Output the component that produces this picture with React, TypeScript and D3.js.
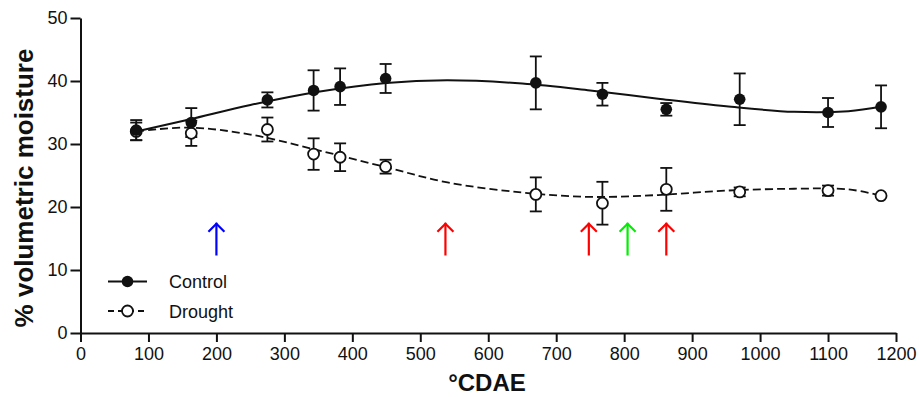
import { useEffect, useRef } from "react";
import * as d3 from "d3";

// sampling points (°CDAE)
const cdae = [82, 163, 275, 343, 382, 449, 670, 768, 862, 970, 1100, 1178];

// Control: mean and SE
const controlMean = [32.2, 33.4, 37.0, 38.5, 39.1, 40.4, 39.7, 37.9, 35.5, 37.1, 35.0, 35.9];
const controlErr = [1.6, 2.3, 1.2, 3.2, 2.9, 2.3, 4.2, 1.8, 1.0, 4.1, 2.3, 3.4];

// Drought: mean and SE
const droughtMean = [32.0, 31.7, 32.3, 28.4, 27.9, 26.4, 22.0, 20.6, 22.8, 22.4, 22.6, 21.8];
const droughtErr = [1.4, 2.0, 1.9, 2.5, 2.2, 1.1, 2.7, 3.4, 3.4, 0.7, 0.8, 0];

// fitted curves
const fitX = [82, 160, 250, 350, 450, 540, 650, 750, 850, 950, 1050, 1130, 1178];
const controlFit = [32.0, 33.9, 36.2, 38.3, 39.7, 40.1, 39.6, 38.5, 37.2, 36.0, 35.1, 35.2, 35.9];
const droughtFit = [32.0, 32.6, 31.5, 29.0, 26.3, 23.9, 22.3, 21.6, 21.9, 22.6, 22.9, 22.8, 21.8];

// event arrows
const arrowX = [200, 537, 748, 805, 862];
const arrowColor = ["#0000ff", "#ff0000", "#ff0000", "#00ee00", "#ff0000"];

const xTicks = d3.range(0, 1201, 100);
const yTicks = [0, 10, 20, 30, 40, 50];

const W = 919;
const H = 397;
const FONT = "Liberation Sans, Arial, sans-serif";
const INK = "#111";

export default function App() {
  const xAxisRef = useRef<SVGGElement>(null);
  const yAxisRef = useRef<SVGGElement>(null);

  const x = d3.scaleLinear().domain([0, 1200]).range([80.5, 896]);
  const y = d3.scaleLinear().domain([0, 50]).range([333, 18]);

  useEffect(() => {
    const styleAxis = (g: d3.Selection<SVGGElement, unknown, null, undefined>) => {
      g.attr("font-family", FONT).attr("font-size", 18);
      g.select(".domain").attr("stroke", INK).attr("stroke-width", 2);
      g.selectAll(".tick line").attr("stroke", INK).attr("stroke-width", 2);
      g.selectAll(".tick text").attr("fill", INK);
    };
    if (xAxisRef.current) {
      const g = d3.select(xAxisRef.current);
      g.selectAll("*").remove();
      g.call(d3.axisBottom(x).tickValues(xTicks).tickSize(9).tickSizeOuter(0).tickPadding(5).tickFormat(d3.format("d")));
      styleAxis(g);
    }
    if (yAxisRef.current) {
      const g = d3.select(yAxisRef.current);
      g.selectAll("*").remove();
      g.call(d3.axisLeft(y).tickValues(yTicks).tickSize(10).tickSizeOuter(0).tickPadding(3).tickFormat(d3.format("d")));
      styleAxis(g);
    }
  });

  const fitLine = d3
    .line<number>()
    .x((_, i) => x(fitX[i]))
    .y((d) => y(d))
    .curve(d3.curveCatmullRom.alpha(0.5));

  const controlPath = fitLine(controlFit) ?? "";
  const droughtPath = fitLine(droughtFit) ?? "";

  const capW = 6;

  const errorBars = (means: number[], errs: number[], key: string) =>
    cdae.map((c, i) =>
      errs[i] > 0 ? (
        <g key={key + i} stroke={INK} strokeWidth={1.8}>
          <line x1={x(c)} x2={x(c)} y1={y(means[i] + errs[i])} y2={y(means[i] - errs[i])} />
          <line x1={x(c) - capW} x2={x(c) + capW} y1={y(means[i] + errs[i])} y2={y(means[i] + errs[i])} />
          <line x1={x(c) - capW} x2={x(c) + capW} y1={y(means[i] - errs[i])} y2={y(means[i] - errs[i])} />
        </g>
      ) : null
    );

  return (
    <svg width={W} height={H} style={{ position: "absolute", left: 0, top: 0, background: "#fff" }}>
      <g ref={xAxisRef} transform={`translate(0,${y(0)})`} />
      <g ref={yAxisRef} transform={`translate(${x(0)},0)`} />

      <path d={droughtPath} fill="none" stroke={INK} strokeWidth={1.8} strokeDasharray="8,4" />
      <path d={controlPath} fill="none" stroke={INK} strokeWidth={2} />

      {errorBars(controlMean, controlErr, "c")}
      {errorBars(droughtMean, droughtErr, "d")}

      {droughtMean.map((v, i) => (
        <circle key={"do" + i} cx={x(cdae[i])} cy={y(v)} r={5.5} fill="#fff" stroke={INK} strokeWidth={1.8} />
      ))}
      {controlMean.map((v, i) => (
        <circle key={"co" + i} cx={x(cdae[i])} cy={y(v)} r={5.8} fill={INK} />
      ))}

      {arrowX.map((a, i) => {
        const tip = y(17.5);
        const tail = y(12.3);
        const cx = x(a);
        return (
          <g key={"ar" + i} stroke={arrowColor[i]} strokeWidth={2.2} fill="none">
            <line x1={cx} x2={cx} y1={tail} y2={tip} />
            <polyline points={`${cx - 8},${tip + 9} ${cx},${tip + 1} ${cx + 8},${tip + 9}`} />
          </g>
        );
      })}

      {/* legend */}
      <g fontFamily={FONT} fontSize={18} fill={INK}>
        <line x1={108} x2={147} y1={281.5} y2={281.5} stroke={INK} strokeWidth={2} />
        <circle cx={127.5} cy={281.5} r={5.8} fill={INK} />
        <text x={169} y={288}>Control</text>
        <line x1={108} x2={147} y1={311} y2={311} stroke={INK} strokeWidth={1.8} strokeDasharray="6,4" />
        <circle cx={127.5} cy={311} r={5.5} fill="#fff" stroke={INK} strokeWidth={1.8} />
        <text x={169} y={317.5}>Drought</text>
      </g>

      <text x={487} y={391} textAnchor="middle" fontFamily={FONT} fontWeight="bold" fontSize={24} fill={INK}>
        °CDAE
      </text>
      <text
        transform={`translate(33,${188}) rotate(-90)`}
        textAnchor="middle"
        fontFamily={FONT}
        fontWeight="bold"
        fontSize={26}
        fill={INK}
      >
        % volumetric moisture
      </text>
    </svg>
  );
}
